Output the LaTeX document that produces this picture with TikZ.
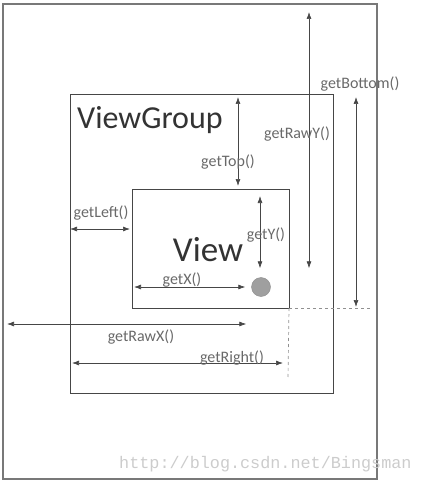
\documentclass[tikz,border=0pt]{standalone}
\usepackage{fontspec}
\setmainfont{Carlito}
\newfontfamily\wmfont{Liberation Mono}
\usepackage{xcolor}
\definecolor{linha}{RGB}{70,70,70}
\definecolor{rotulo}{RGB}{105,105,105}
\definecolor{moldura}{RGB}{120,120,120}
\usetikzlibrary{arrows.meta}

\begin{document}
\begin{tikzpicture}[x=1pt, y=-1pt,
    box/.style={draw=linha, line width=0.8pt, inner sep=0pt, outer sep=0pt,
                anchor=north west},
    dim/.style={{Latex[length=7pt,width=5pt]}-{Latex[length=7pt,width=5pt]},
                linha, line width=0.7pt},
    lbl/.style={font=\fontsize{16}{16}\selectfont, text=rotulo, inner sep=0pt},
    guide/.style={dashed, linha!60, line width=0.7pt}
  ]
  \useasboundingbox (0,0) rectangle (421,484);

  % Screen, ViewGroup and View
  \node[box, draw=moldura, line width=1.8pt, minimum width=374pt, minimum height=475pt]
    (screen) at (3,4) {};
  \node[box, minimum width=263pt, minimum height=299pt] (group) at (70,94) {};
  \node[box, minimum width=157pt, minimum height=119pt] (view) at (132,189) {};
  \node[circle, fill=gray!75, draw=gray!90, minimum size=19pt, inner sep=0pt]
    (touch) at (261,287) {};

  \node[anchor=west, font=\fontsize{32}{32}\selectfont, text=black!80, inner sep=0pt]
    (groupname) at (77,120) {ViewGroup};
  \node[font=\fontsize{35}{35}\selectfont, text=black!80, inner sep=0pt]
    (viewname) at (208,250) {View};

  % Vertical measures
  \coordinate (topx) at (238,0);
  \coordinate (yx) at (260,0);
  \coordinate (rawyx) at (309,0);
  \coordinate (bottomx) at (356,0);
  \draw[dim, shorten <=3pt, shorten >=3pt] (group.north -| topx) -- (view.north -| topx);
  \draw[dim, shorten <=7pt, shorten >=9pt] (view.north -| yx) -- (touch.north -| yx);
  \draw[dim, shorten <=8pt, shorten >=9pt] (screen.north -| rawyx) -- (touch.north -| rawyx);
  \draw[dim, shorten <=3pt, shorten >=1pt] (group.north -| bottomx) -- (view.south -| bottomx);

  % Horizontal measures
  \coordinate (lefty) at (0,229);
  \coordinate (rawxy) at (0,324);
  \coordinate (righty) at (0,363);
  \draw[dim, shorten >=2pt] (group.west |- lefty) -- (view.west |- lefty);
  \draw[dim, shorten <=2pt, shorten >=6pt] (view.west |- touch) -- (touch.west);
  \draw[dim, shorten <=4pt, shorten >=5pt] (screen.west |- rawxy) -- (touch.west |- rawxy);
  \draw[dim, shorten <=2pt, shorten >=6pt] (group.west |- righty) -- (view.east |- righty);

  % Guides from the View corner
  \coordinate (guideend) at (288,378);
  \draw[guide] (view.south east) -- ([xshift=-5pt]screen.east |- view.south east);
  \draw[guide] (view.south east) -- (guideend);

  % Labels
  \node[lbl] (toplbl) at (228,162) {getTop()};
  \node[lbl] (rawylbl) at (297,134) {getRawY()};
  \node[lbl] (bottomlbl) at (360,84) {getBottom()};
  \node[lbl] (ylbl) at (266,235) {getY()};
  \node[lbl] (leftlbl) at (101,213) {getLeft()};
  \node[lbl] (xlbl) at (182,280) {getX()};
  \node[lbl] (rawxlbl) at (141,337) {getRawX()};
  \node[lbl] (rightlbl) at (232,358) {getRight()};

  \node[anchor=west, inner sep=0pt, text=gray!40,
        font=\wmfont\fontsize{16.8}{16.8}\selectfont]
    (mark) at (119,464) {http://blog.csdn.net/Bingsman};
\end{tikzpicture}
\end{document}
